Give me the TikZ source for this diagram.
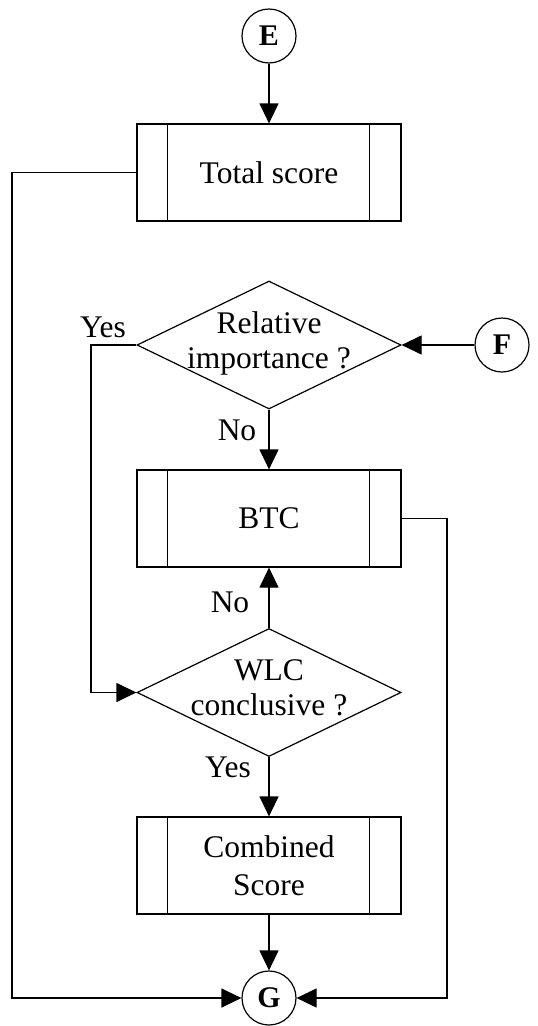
\documentclass[tikz,border=0pt]{standalone}
\usepackage{fontspec}
\setmainfont{Liberation Serif}
\usetikzlibrary{shapes.geometric,arrows.meta}
\begin{document}
\begin{tikzpicture}[x=1pt,y=-1pt,
  line width=1.2pt,
  every node/.style={font=\fontsize{31.5}{38}\selectfont},
  proc/.style={draw, rectangle, minimum width=264pt, minimum height=97pt, inner sep=0pt, align=center},
  decision/.style={draw, diamond, minimum width=264pt, minimum height=128pt, inner sep=0pt},
  dtext/.style={align=center, inner sep=0pt, font=\fontsize{31.5}{35.5}\selectfont},
  conn/.style={draw, circle, minimum size=54pt, inner sep=0pt, font=\fontsize{30}{32}\selectfont\bfseries},
  arr/.style={-{Triangle[length=20pt,width=19pt]}},
  lbl/.style={anchor=base, inner sep=0pt},
]
\useasboundingbox (0,0) rectangle (538,1026);

% nodes
\node[conn] (E) at (269,36) {E};
\node[proc] (ts) at (269,172.5) {\raisebox{-3pt}{Total score}};
\node[decision] (d1) at (269,345) {};
\node[dtext] (d1t) at (269,343.5) {Relative\\importance ?};
\node[conn] (F) at (502,345) {F};
\node[proc] (btc) at (269,518.5) {\raisebox{-3pt}{BTC}};
\node[decision] (d2) at (269,692.5) {};
\node[dtext] (d2t) at (269,688) {WLC\\conclusive ?};
\node[proc] (cs) at (269,865.5) {Combined\\Score};
\node[conn] (G) at (269,998) {G};

% inner bars of the predefined-process boxes
\foreach \b in {ts,btc,cs}{
  \draw ([xshift=31pt]\b.north west) -- ([xshift=31pt]\b.south west);
  \draw ([xshift=-32pt]\b.north east) -- ([xshift=-32pt]\b.south east);
}

% labels
\node[lbl] (y1) at (103,337) {Yes};
\node[lbl] (n1) at (237,440) {No};
\node[lbl] (n2) at (230,612) {No};
\node[lbl] (y2) at (228,777) {Yes};

% connectors
\coordinate (L) at (12,0);
\coordinate (M) at (91,0);
\coordinate (R) at (447,0);
\draw[arr] (E) -- (ts);
\draw[arr] (ts.west) -- (ts.west -| L) |- (G.west);
\draw[arr] (F) -- (d1.east);
\draw[arr] (d1.west) -- (d1.west -| M) |- (d2.west);
\draw[arr] (d1.south) -- (btc.north);
\draw[arr] (d2.north) -- (btc.south);
\draw[arr] (d2.south) -- (cs.north);
\draw[arr] (cs) -- (G);
\draw[arr] (btc.east) -- (btc.east -| R) |- (G.east);
\end{tikzpicture}
\end{document}
